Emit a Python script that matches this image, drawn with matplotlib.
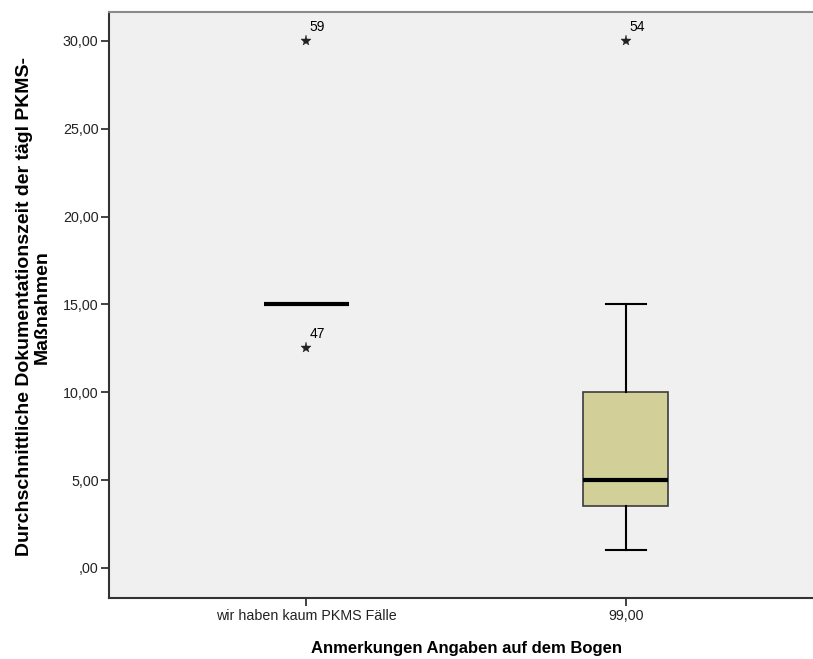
import matplotlib.pyplot as plt
import numpy as np

plt.rcParams['font.family'] = ['Liberation Sans', 'DejaVu Sans']

categories = ["wir haben kaum PKMS Fälle", "99,00"]
medians = [15.0, 5.0]
q1_values = [15.0, 3.5]
q3_values = [15.0, 10.0]
whisker_low = [15.0, 1.0]
whisker_high = [15.0, 15.0]
outliers = [[30.0, 12.5], [30.0]]
outlier_ids = [["59", "47"], ["54"]]
y_ticks = [0, 5, 10, 15, 20, 25, 30]
y_tick_labels = [",00", "5,00", "10,00", "15,00", "20,00", "25,00", "30,00"]


def build_stats():
    stats = []
    for i in range(len(categories)):
        stats.append({
            "med": medians[i], "q1": q1_values[i], "q3": q3_values[i],
            "whislo": whisker_low[i], "whishi": whisker_high[i],
            "fliers": outliers[i], "label": categories[i],
        })
    return stats


fig = plt.figure(figsize=(8.13, 6.59), dpi=100)
ax = fig.add_axes([109 / 813, 61 / 659, 714 / 813, 586 / 659])
ax.set_facecolor("#f0f0f0")

pos = np.arange(len(categories))
ax.bxp(build_stats(), positions=pos, widths=0.266, patch_artist=True,
       showfliers=True,
       boxprops=dict(facecolor="#d3cf98", edgecolor="#3c3c3c", linewidth=1.2),
       medianprops=dict(color="black", linewidth=3, solid_capstyle="butt"),
       whiskerprops=dict(color="black", linewidth=1.5),
       capprops=dict(color="black", linewidth=1.5),
       capwidths=0.125,
       flierprops=dict(marker="*", markersize=8, markerfacecolor="#222222",
                       markeredgecolor="#222222", markeredgewidth=0.3,
                       linestyle="none"))

for i, (vals, ids) in enumerate(zip(outliers, outlier_ids)):
    for v, lab in zip(vals, ids):
        ax.annotate(lab, (pos[i], v), xytext=(2.5, 5), textcoords="offset points",
                    fontsize=10, ha="left", va="bottom")

ax.set_xlim(-0.616, 1.616)
ax.set_ylim(-1.71, 31.65)
ax.set_xticks(pos)
ax.set_xticklabels(categories, fontsize=10.3)
ax.set_yticks(y_ticks)
ax.set_yticklabels(y_tick_labels, fontsize=10.3)
ax.tick_params(direction="out", length=6, width=1.2, colors="#222222", pad=1.5)
ax.tick_params(axis="x", pad=2)

for side in ["left", "bottom"]:
    ax.spines[side].set_color("#333333")
    ax.spines[side].set_linewidth(1.5)
for side in ["top", "right"]:
    ax.spines[side].set_color("#8a8a8a")
    ax.spines[side].set_linewidth(1.5)

fig.text(33 / 813, 1 - 307 / 659,
         "Durchschnittliche Dokumentationszeit der tägl PKMS-\nMaßnahmen",
         rotation=90, ha="center", va="center", multialignment="center",
         fontsize=14, fontweight="bold", linespacing=1.05)
fig.text(466 / 813, 1 - 649 / 659, "Anmerkungen Angaben auf dem Bogen",
         ha="center", va="center", fontsize=12, fontweight="bold")

plt.savefig("out.png", dpi=100)
